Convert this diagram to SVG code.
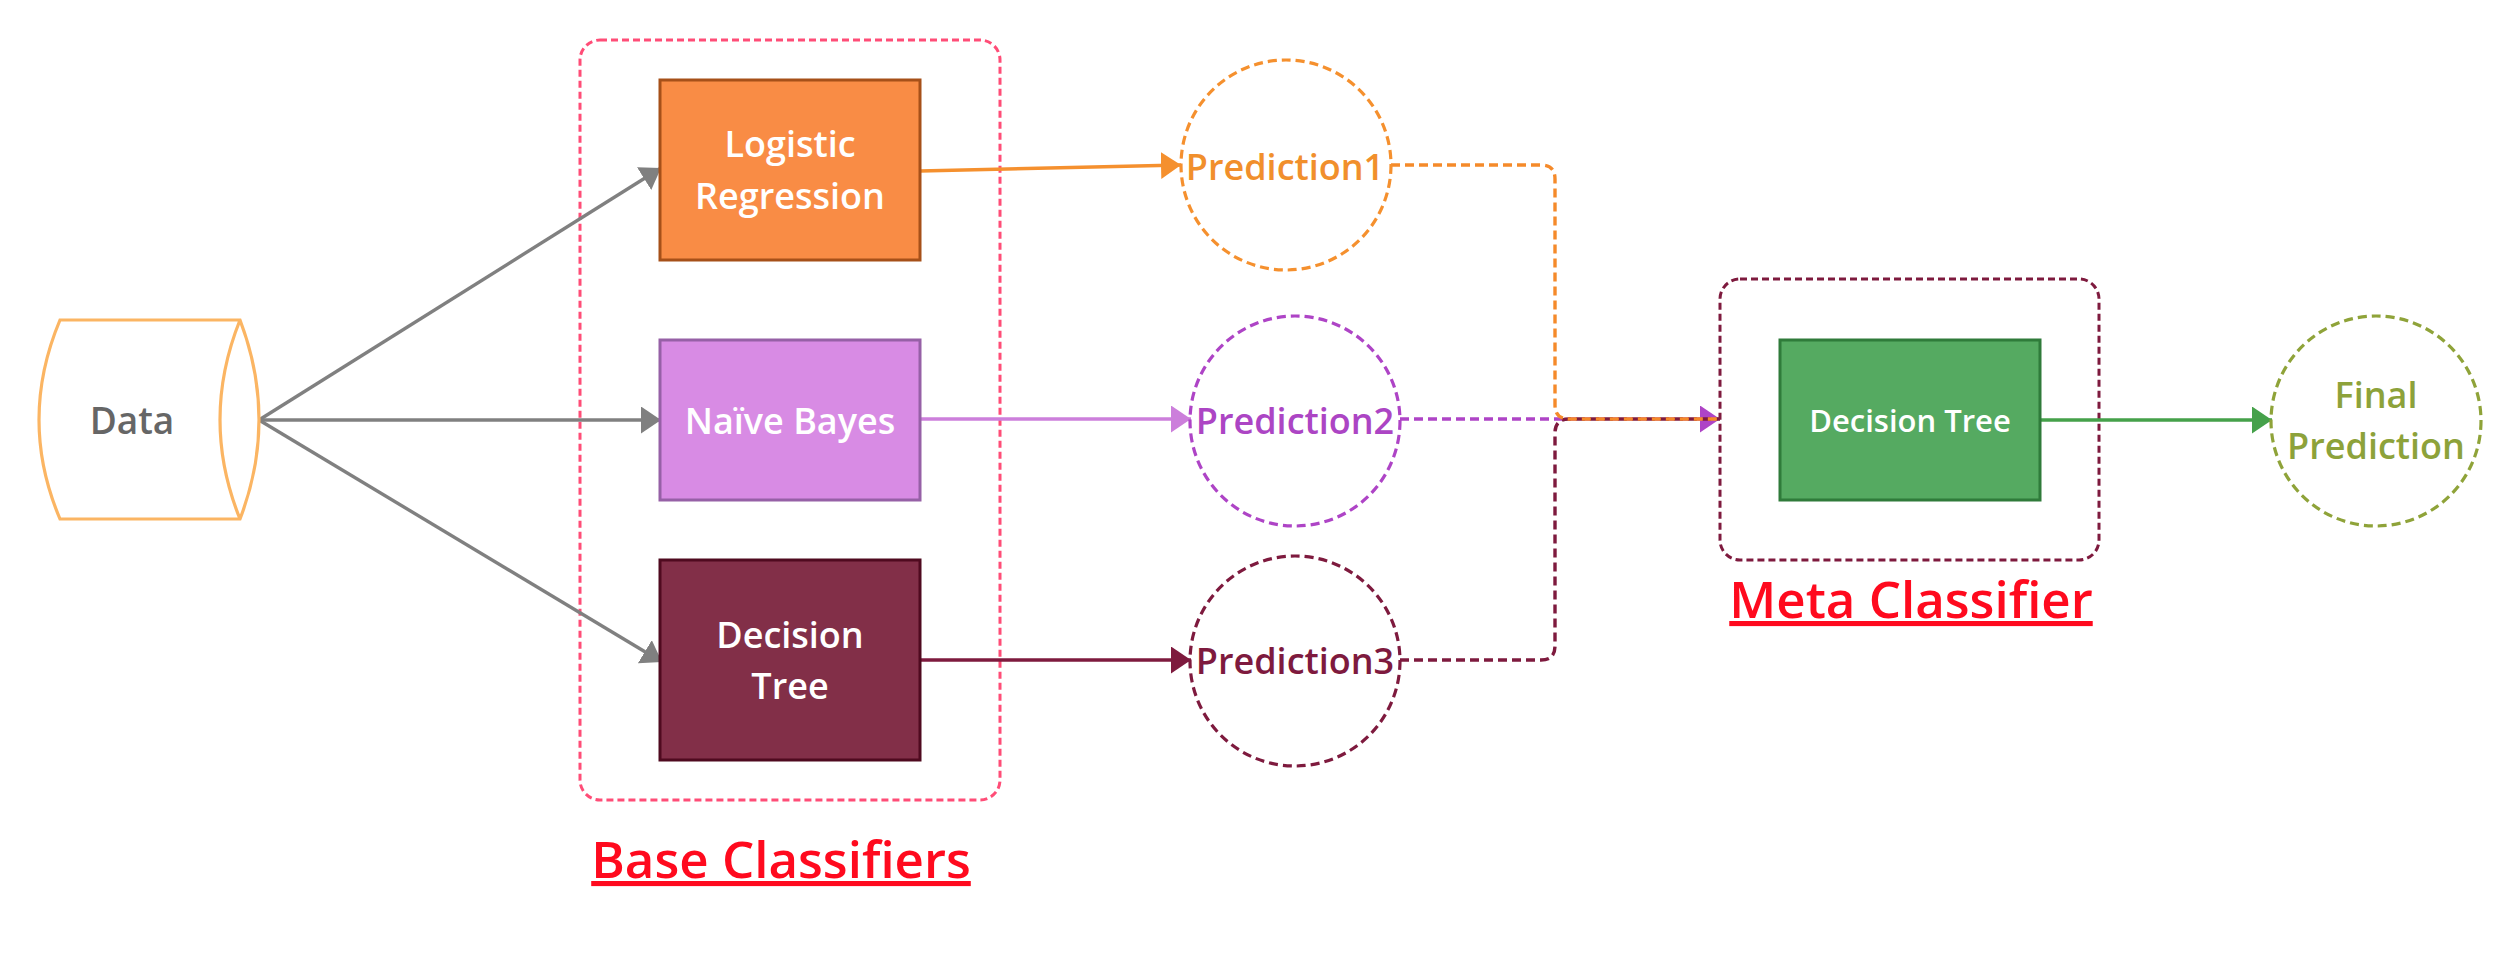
<svg xmlns="http://www.w3.org/2000/svg" width="2520" height="960" viewBox="0 0 2520 960">
<defs>
<style>
.lbl{font-family:"Open Sans","Noto Sans","Liberation Sans",sans-serif;font-weight:600;text-anchor:middle}
.w{fill:#ffffff;font-size:36px}
.head{font-family:"Open Sans","Noto Sans","Liberation Sans",sans-serif;font-weight:600;font-size:51px;fill:#FF0A1E;text-anchor:middle;text-decoration:underline}
.grp{fill:none;stroke-width:3;stroke-dasharray:7 4}
.circ{fill:none;stroke-width:3.2;stroke-dasharray:9 5}
.con{fill:none;stroke-width:3.4}
.dash{stroke-dasharray:9 5}
</style>
<marker id="aGray" markerUnits="userSpaceOnUse" markerWidth="22" markerHeight="28" refX="20" refY="13.5" orient="auto"><path d="M0,0 L20,13.5 L0,27 Z" fill="#808080"/></marker>
<marker id="aOrange" markerUnits="userSpaceOnUse" markerWidth="22" markerHeight="28" refX="20" refY="13.5" orient="auto"><path d="M0,0 L20,13.5 L0,27 Z" fill="#F5902E"/></marker>
<marker id="aLilac" markerUnits="userSpaceOnUse" markerWidth="22" markerHeight="28" refX="20" refY="13.5" orient="auto"><path d="M0,0 L20,13.5 L0,27 Z" fill="#CC7FDB"/></marker>
<marker id="aPurple" markerUnits="userSpaceOnUse" markerWidth="22" markerHeight="28" refX="20" refY="13.5" orient="auto"><path d="M0,0 L20,13.5 L0,27 Z" fill="#AE44C6"/></marker>
<marker id="aMaroon" markerUnits="userSpaceOnUse" markerWidth="22" markerHeight="28" refX="20" refY="13.5" orient="auto"><path d="M0,0 L20,13.5 L0,27 Z" fill="#7E1A3E"/></marker>
<marker id="aGreen" markerUnits="userSpaceOnUse" markerWidth="22" markerHeight="28" refX="20" refY="13.5" orient="auto"><path d="M0,0 L20,13.5 L0,27 Z" fill="#45A14A"/></marker>
</defs>
<rect width="2520" height="960" fill="#ffffff"/>

<g id="base-classifiers">
<rect class="grp" x="580" y="40" width="420" height="760" rx="20" stroke="#FF4D77"/>
<text class="head" x="781" y="878">Base Classifiers</text>
</g>

<g id="meta-classifier">
<rect class="grp" x="1720" y="279" width="379" height="281" rx="20" stroke="#7E1A3E"/>
<text class="head" x="1911" y="618">Meta Classifier</text>
</g>

<g id="connectors">
<path class="con" d="M259,420 L661,168" stroke="#808080" marker-end="url(#aGray)"/>
<path class="con" d="M259,420 L661,420" stroke="#808080" marker-end="url(#aGray)"/>
<path class="con" d="M259,420 L662,662" stroke="#808080" marker-end="url(#aGray)"/>
<path class="con" d="M920,171 L1181,165" stroke="#F5902E" marker-end="url(#aOrange)"/>
<path class="con" d="M920,419 L1191,419" stroke="#CC7FDB" marker-end="url(#aLilac)"/>
<path class="con" d="M920,660 L1191,660" stroke="#7E1A3E" marker-end="url(#aMaroon)"/>
<path class="con" d="M2040,420 L2272,420" stroke="#45A14A" marker-end="url(#aGreen)"/>
<path class="con dash" d="M1400,419 L1720,419" stroke="#AE44C6" marker-end="url(#aPurple)"/>
<path class="con dash" d="M1400,660 L1541,660 Q1555,660 1555,646 L1555,433 Q1555,419 1569,419 L1720,419" stroke="#7E1A3E"/>
<path class="con dash" d="M1391,165 L1541,165 Q1555,165 1555,179 L1555,405 Q1555,419 1569,419 L1720,419" stroke="#F58A2A"/>
</g>

<g id="data">
<path d="M60,320 L240,320 Q278,420 240,519 L60,519 Q18,420 60,320 Z M240,320 Q200,420 240,519" fill="none" stroke="#FBB563" stroke-width="3.2" stroke-linejoin="miter"/>
<text class="lbl" x="132" y="434" font-size="37" fill="#666666">Data</text>
</g>

<g id="logistic-regression">
<rect x="660" y="80" width="260" height="180" fill="#F98C45" stroke="#A65019" stroke-width="3"/>
<text class="lbl w" x="790" y="157">Logistic</text>
<text class="lbl w" x="790" y="209">Regression</text>
</g>

<g id="naive-bayes">
<rect x="660" y="340" width="260" height="160" fill="#D88BE4" stroke="#9660A6" stroke-width="3"/>
<text class="lbl w" x="790" y="434">Naïve Bayes</text>
</g>

<g id="decision-tree-base">
<rect x="660" y="560" width="260" height="200" fill="#822F48" stroke="#4F0A1F" stroke-width="3"/>
<text class="lbl w" x="790" y="648">Decision</text>
<text class="lbl w" x="790" y="699">Tree</text>
</g>

<g id="prediction1">
<circle class="circ" cx="1286" cy="165" r="105" stroke="#F5902E"/>
<text class="lbl" x="1285" y="180" font-size="36" fill="#F18F2C">Prediction1</text>
</g>

<g id="prediction2">
<circle class="circ" cx="1295" cy="421" r="105" stroke="#AE44C6"/>
<text class="lbl" x="1295" y="434" font-size="36" fill="#AC45C4">Prediction2</text>
</g>

<g id="prediction3">
<circle class="circ" cx="1295" cy="661" r="105" stroke="#7E1A3E"/>
<text class="lbl" x="1295" y="674" font-size="36" fill="#7E1A3E">Prediction3</text>
</g>

<g id="decision-tree-meta">
<rect x="1780" y="340" width="260" height="160" fill="#55AA61" stroke="#2F7B3A" stroke-width="3"/>
<text class="lbl" x="1910" y="432" font-size="31" fill="#ffffff">Decision Tree</text>
</g>

<g id="final-prediction">
<circle class="circ" cx="2376" cy="421" r="105" stroke="#8FA339"/>
<text class="lbl" x="2376" y="408" font-size="36" fill="#8DA23A">Final</text>
<text class="lbl" x="2376" y="459" font-size="36" fill="#8DA23A">Prediction</text>
</g>
</svg>
